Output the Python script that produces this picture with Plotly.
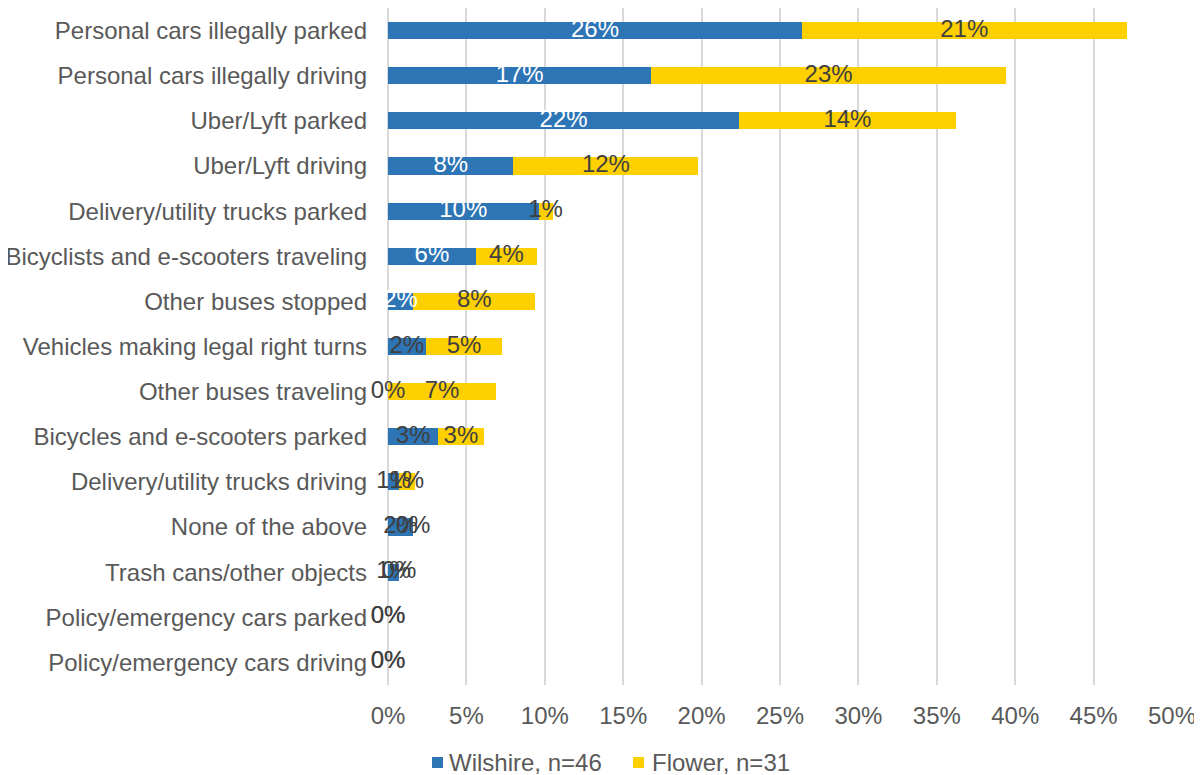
import plotly.graph_objects as go

categories = [
    "Personal cars illegally parked",
    "Personal cars illegally driving",
    "Uber/Lyft parked",
    "Uber/Lyft driving",
    "Delivery/utility trucks parked",
    "Bicyclists and e-scooters traveling",
    "Other buses stopped",
    "Vehicles making legal right turns",
    "Other buses traveling",
    "Bicycles and e-scooters parked",
    "Delivery/utility trucks driving",
    "None of the above",
    "Trash cans/other objects",
    "Policy/emergency cars parked",
    "Policy/emergency cars driving",
]
wilshire = [26.4, 16.8, 22.4, 8.0, 9.6, 5.6, 1.6, 2.4, 0.0, 3.2, 0.7, 1.6, 0.7, 0.0, 0.0]
flower = [20.7, 22.6, 13.8, 11.8, 0.9, 3.9, 7.8, 4.9, 6.9, 2.9, 1.0, 0.0, 0.0, 0.0, 0.0]
wilshire_label_white = [True, True, True, True, True, True, True, False, False, False, False, False, False, False, False]
x_ticks = [0, 5, 10, 15, 20, 25, 30, 35, 40, 45, 50]
series_names = ["Wilshire, n=46", "Flower, n=31"]

BLUE = "#2E75B6"
YELLOW = "#FFD000"
DARK = "#404040"
GREY = "#595959"
FONT = "Liberation Sans, Arial, sans-serif"
FS = 24

# page body adds an 8px offset; margins are set so the plot lands where the reference has it
OFF = 8
W, H = 1202, 775
ML, MR, MT, MB = 380, 38, 0, 98
PW = W - ML - MR
PH = H - MT - MB


def px_to_paper_x(sx):
    return (sx - OFF - ML) / PW


def px_to_paper_y(sy):
    return (MT + PH - (sy - OFF)) / PH


fig = go.Figure()
fig.add_trace(go.Bar(
    y=categories, x=wilshire, orientation="h", name=series_names[0],
    marker=dict(color=BLUE, line=dict(width=0)), hoverinfo="skip", showlegend=False,
))
fig.add_trace(go.Bar(
    y=categories, x=flower, orientation="h", name=series_names[1],
    marker=dict(color=YELLOW, line=dict(width=0)), hoverinfo="skip", showlegend=False,
))

# data labels centred in each segment
fig.add_trace(go.Scatter(
    y=categories, x=[w / 2 for w in wilshire], mode="text",
    text=[f"{w:.0f}%" for w in wilshire],
    textfont=dict(family=FONT, size=FS,
                  color=["white" if c else DARK for c in wilshire_label_white]),
    showlegend=False, hoverinfo="skip", cliponaxis=False,
))
fig.add_trace(go.Scatter(
    y=categories, x=[w + f / 2 for w, f in zip(wilshire, flower)], mode="text",
    text=[f"{f:.0f}%" for f in flower],
    textfont=dict(family=FONT, size=FS, color=DARK),
    showlegend=False, hoverinfo="skip", cliponaxis=False,
))

# legend drawn as squares + text below the plot
legend_items = [(432, 447, BLUE, series_names[0]), (633, 650, YELLOW, series_names[1])]
for sq_x, tx_x, col, name in legend_items:
    fig.add_shape(type="rect", xref="paper", yref="paper",
                  x0=px_to_paper_x(sq_x), x1=px_to_paper_x(sq_x + 11),
                  y0=px_to_paper_y(768), y1=px_to_paper_y(757),
                  fillcolor=col, line=dict(width=0))
    fig.add_annotation(xref="paper", yref="paper",
                       x=px_to_paper_x(tx_x), xanchor="left",
                       y=px_to_paper_y(762), yanchor="middle",
                       text=name, showarrow=False,
                       font=dict(family=FONT, size=FS, color=GREY))

fig.update_layout(
    width=W, height=H,
    margin=dict(l=ML, r=MR, t=MT, b=MB, autoexpand=False),
    barmode="stack", bargap=0.62,
    plot_bgcolor="white", paper_bgcolor="white",
    font=dict(family=FONT, size=FS, color=GREY),
    showlegend=False,
    xaxis=dict(range=[0, 50], tickvals=x_ticks,
               ticktext=[f"{t}%" for t in x_ticks],
               showgrid=True, gridcolor="#D9D9D9", gridwidth=2,
               zeroline=True, zerolinecolor="#D9D9D9", zerolinewidth=2,
               ticks="", ticklabelstandoff=14, automargin=False,
               tickfont=dict(family=FONT, size=FS, color=GREY)),
    yaxis=dict(categoryorder="array", categoryarray=categories,
               range=[len(categories) - 0.5, -0.5],
               showgrid=False, zeroline=False,
               ticks="", ticklabelstandoff=20, automargin=False,
               tickfont=dict(family=FONT, size=FS, color=GREY)),
)

fig.write_html("out.html")
